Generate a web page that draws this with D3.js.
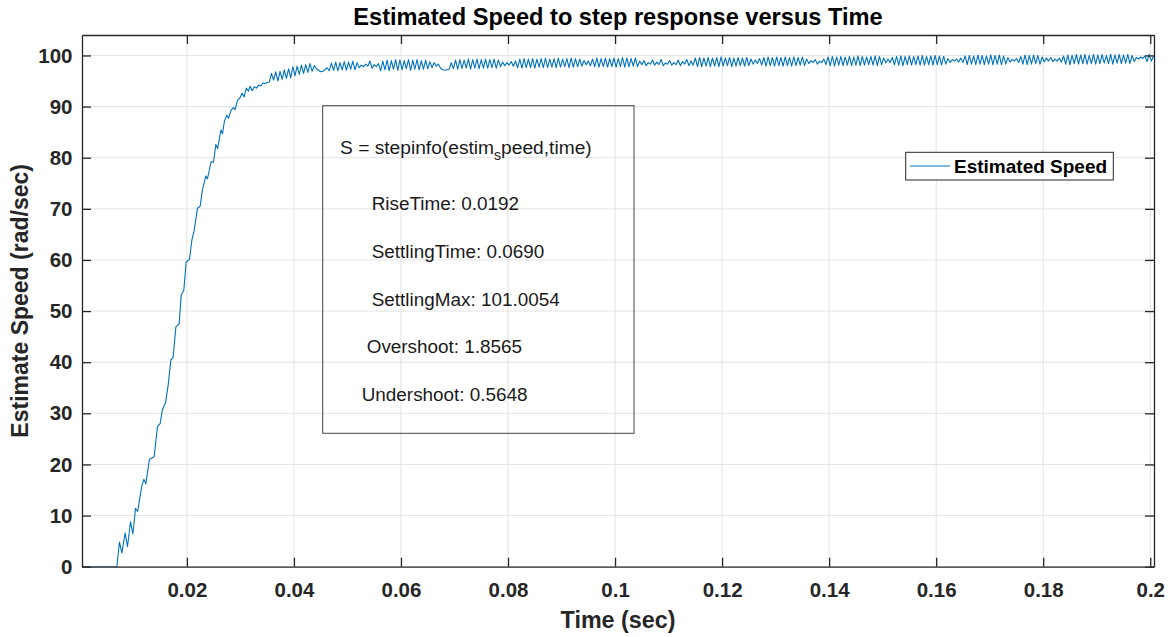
<!DOCTYPE html>
<html>
<head>
<meta charset="utf-8">
<script src="https://cdn.jsdelivr.net/npm/d3@7"></script>
<style>
  body{margin:0;background:#fff}
  svg{display:block;font-family:"Liberation Sans",Arial,Helvetica,sans-serif}
</style>
</head>
<body>
<svg id="chart" width="1174" height="637"></svg>
<script>
// rise phase (time in s, speed in rad/s)
var riseTime = [0.0004,0.0069,0.0074,0.00785,0.00846,0.0089,0.00946,0.0099,0.0104,0.0108,
  0.01158,0.01196,0.01233,0.0130,0.01388,0.0145,0.0150,0.01544,0.0160,0.0165,
  0.0170,0.01743,0.01794,0.01855,0.01893,0.01943,0.01986,0.02048,0.02093,0.02136,
  0.02197,0.02248,0.0229,0.02354,0.02384,0.02453,0.02497,0.02541,0.02575,0.02635,
  0.02665,0.02702,0.02747,0.02777,0.02827,0.0287,0.029,0.02945,0.02985,0.0303,
  0.0307,0.0311,0.0315,0.0318,0.0322,0.0326,0.0330,0.0334,0.0338,0.0342,
  0.0346,0.0350,0.0354];
var riseSpeed = [0,0,4.8,2.7,6.6,3.9,8.8,6.4,11.4,10.8,
  15.8,17.1,16.2,21.0,21.5,27.4,28.0,30.8,32.0,35.5,
  40.4,41.0,46.9,47.5,53.1,54.1,59.6,60.1,63.9,65.8,
  70.1,70.5,73.7,76.4,75.9,79.2,79.1,82.6,81.8,85.4,
  84.7,87.2,88.3,87.7,89.3,89.8,89.4,91.2,91.6,92.6,
  91.9,93.6,93.0,94.0,93.1,93.9,93.6,94.2,94.0,94.6,
  94.5,94.7,94.8];

// steady part: one sample every 0.4 ms starting at 35.8 ms
var steadyStart = 0.0358;
var steadyStep = 0.0004;
var steadySpeed = [
  96.5,95.2,96.8,95.0,96.9,95.3,97.2,95.5,97.4,95.6,97.8,96.0,97.9,96.3,98.1,96.5,98.2,96.7,98.4,96.9,
  98.0,97.4,97.1,96.8,96.9,97.2,97.6,97.0,98.5,97.1,98.7,97.0,98.6,97.2,98.8,97.1,98.7,97.3,98.9,97.2,
  98.6,97.6,98.1,97.8,98.3,97.9,98.9,97.5,98.2,97.8,98.4,97.0,98.9,97.2,99.1,97.0,99.0,97.3,99.2,97.1,
  99.1,97.2,99.0,97.4,99.2,97.1,99.1,97.3,99.2,97.2,99.0,97.3,99.1,97.4,98.8,97.6,98.6,97.9,98.3,97.5,
  97.2,97.1,97.2,97.3,98.6,97.4,99.1,97.3,99.2,97.4,99.1,97.5,99.3,97.3,99.2,97.5,99.3,97.4,99.2,97.5,
  99.3,97.5,99.2,97.6,99.3,97.5,99.1,97.8,98.7,98.0,98.6,98.1,98.8,97.9,98.9,97.6,99.3,97.5,99.4,97.6,
  99.3,97.6,99.4,97.5,99.3,97.7,99.4,97.6,99.5,97.6,99.3,97.7,99.4,97.6,99.5,97.7,99.3,97.8,99.4,97.6,
  99.5,97.7,99.4,97.8,99.3,97.9,99.0,98.2,98.9,98.0,99.3,97.8,99.5,97.7,99.4,97.8,99.5,97.7,99.4,97.8,
  99.5,97.7,99.4,97.8,99.6,97.7,99.5,97.8,99.4,97.9,99.5,97.8,98.9,98.2,99.0,98.0,98.6,98.3,99.1,98.1,
  98.7,98.2,99.2,98.0,98.5,98.3,99.0,98.1,98.6,98.2,99.1,98.0,98.8,98.3,99.2,98.0,98.9,98.1,99.5,97.8,
  99.6,97.8,99.5,97.9,99.6,97.8,99.5,97.9,99.6,97.8,99.7,97.9,99.5,98.0,99.6,97.8,99.5,97.9,99.6,98.0,
  99.5,97.9,99.6,98.0,99.3,98.3,99.1,98.4,99.4,98.1,99.6,97.9,99.7,98.0,99.6,97.9,99.7,98.0,99.6,97.9,
  99.7,98.0,99.6,97.9,99.7,98.0,99.6,98.1,99.7,98.0,99.3,98.4,99.0,98.6,99.2,98.3,98.9,98.6,99.3,98.2,
  99.7,98.0,99.8,97.9,99.7,98.1,99.8,98.0,99.7,98.1,99.8,98.0,99.7,98.1,99.9,98.0,99.8,98.1,99.7,98.2,
  99.8,98.1,99.9,98.0,99.8,98.2,99.5,98.5,99.3,98.6,99.6,98.2,99.8,98.1,99.9,98.0,99.8,98.2,99.9,98.1,
  99.8,98.2,99.9,98.1,100.0,98.1,99.8,98.2,99.9,98.1,100.0,98.2,99.9,98.1,99.8,98.3,99.4,98.6,99.2,98.9,
  99.3,98.7,99.5,98.6,99.9,98.2,100.0,98.3,99.9,98.2,100.1,98.3,100.0,98.2,99.9,98.3,100.1,98.2,100.0,98.3,
  100.1,98.2,99.9,98.3,99.6,98.7,99.2,98.9,99.4,98.6,99.8,98.3,100.1,98.2,100.0,98.3,100.1,98.4,100.0,98.3,
  99.7,98.7,99.5,98.9,99.6,98.8,99.3,98.9,99.5,98.7,99.9,98.3,100.1,98.2,100.0,98.4,100.2,98.3,100.1,98.4,
  100.2,98.3,100.0,98.4,100.2,98.3,100.1,98.4,100.2,98.5,100.0,98.4,100.2,98.3,100.1,98.5,100.2,98.4,100.1,98.5,
  100.2,98.4,100.0,98.8,99.6,99.3,99.7,99.4,99.9,98.8,100.2,98.9,99.8
];

var xRange = [0.0004, 0.2007];
var yRange = [0, 104];
var xTicks = [0.02,0.04,0.06,0.08,0.1,0.12,0.14,0.16,0.18,0.2];
var xTickLabels = ["0.02","0.04","0.06","0.08","0.1","0.12","0.14","0.16","0.18","0.2"];
var yTicks = [0,10,20,30,40,50,60,70,80,90,100];

var titleText = "Estimated Speed to step response versus Time";
var xLabel = "Time (sec)";
var yLabel = "Estimate Speed (rad/sec)";
var legendLabel = "Estimated Speed";
var infoLines = ["RiseTime: 0.0192","SettlingTime: 0.0690","SettlingMax: 101.0054",
  "Overshoot: 1.8565","Undershoot: 0.5648"];

var set = function(sel, obj){
  for(var k in obj) sel.attr(k, obj[k]);
  return sel;
}

var box = {left:82, top:35, right:1154, bottom:566.7};
var axisColor = "#262626";
var lineColor = "#0072bd";

var svg = d3.select("#chart");
var x = d3.scaleLinear().domain(xRange).range([box.left, box.right]);
var y = d3.scaleLinear().domain(yRange).range([box.bottom, box.top]);

// grid
var grid = svg.append("g").attr("stroke", "#e3e3e3").attr("stroke-width", 1);
grid.selectAll("line.vx").data(xTicks).join("line")
  .attr("x1", function(d){return x(d)}).attr("x2", function(d){return x(d)})
  .attr("y1", box.top).attr("y2", box.bottom);
grid.selectAll("line.hy").data(yTicks).join("line")
  .attr("x1", box.left).attr("x2", box.right)
  .attr("y1", function(d){return y(d)}).attr("y2", function(d){return y(d)});

// stepinfo annotation (transparent box, grid shows through)
var info = svg.append("g");
set(info.append("rect"), {x:322.7, y:105.7, width:311.3, height:327.6,
  fill:"none", stroke:"#444", "stroke-width":1});
var first = set(info.append("text"), {x:340, y:154, "font-size":19.2, fill:"#1a1a1a"});
first.append("tspan").text("S = stepinfo(estim");
first.append("tspan").attr("font-size", 14).attr("dy", 6).text("s");
first.append("tspan").attr("dy", -6).text("peed,time)");
var infoX = [371.7, 371.7, 371.7, 366.7, 361.7];
var infoY = [210, 257.7, 305.5, 353.3, 401];
infoLines.forEach(function(s, i){
  set(info.append("text"), {x:infoX[i], y:infoY[i], "font-size":18.9, fill:"#1a1a1a"}).text(s);
});

// curve
var pts = [];
riseTime.forEach(function(t, i){ pts.push([t, riseSpeed[i]]) });
steadySpeed.forEach(function(v, i){ pts.push([steadyStart + i*steadyStep, v]) });

svg.append("clipPath").attr("id", "clip").append("rect")
  .attr("x", box.left).attr("y", box.top)
  .attr("width", box.right - box.left).attr("height", box.bottom - box.top);

var line = d3.line()
  .x(function(d){return x(d[0])})
  .y(function(d){return y(d[1])});
set(svg.append("path").datum(pts), {d:line, fill:"none", stroke:lineColor,
  "stroke-width":1.1, "stroke-linejoin":"round", "clip-path":"url(#clip)"});

// axes, ticks point inward on all four sides
var styleAxis = function(g){
  g.select(".domain").attr("stroke", axisColor).attr("stroke-width", 1.3);
  g.selectAll(".tick line").attr("stroke", axisColor).attr("stroke-width", 1.3);
  g.selectAll(".tick text").attr("fill", axisColor)
    .attr("font-size", 20.5).attr("font-weight", "bold")
    .attr("font-family", "'Liberation Sans',Arial,sans-serif");
}
var gB = svg.append("g").attr("transform", "translate(0," + box.bottom + ")")
  .call(d3.axisBottom(x).tickValues(xTicks)
    .tickFormat(function(d, i){return xTickLabels[i]})
    .tickSize(-9).tickSizeOuter(0).tickPadding(15.5));
var gT = svg.append("g").attr("transform", "translate(0," + box.top + ")")
  .call(d3.axisTop(x).tickValues(xTicks).tickFormat("").tickSize(-9).tickSizeOuter(0));
var gL = svg.append("g").attr("transform", "translate(" + box.left + ",0)")
  .call(d3.axisLeft(y).tickValues(yTicks).tickFormat(String)
    .tickSize(-9).tickSizeOuter(0).tickPadding(9.5));
var gR = svg.append("g").attr("transform", "translate(" + box.right + ",0)")
  .call(d3.axisRight(y).tickValues(yTicks).tickFormat("").tickSize(-9).tickSizeOuter(0));
[gB, gT, gL, gR].forEach(styleAxis);

// legend
var lg = svg.append("g");
set(lg.append("rect"), {x:905.7, y:152.3, width:207.6, height:27.7,
  fill:"#fff", stroke:axisColor, "stroke-width":1});
set(lg.append("line"), {x1:910, x2:950, y1:166, y2:166, stroke:lineColor, "stroke-width":1.1});
set(lg.append("text"), {x:954, y:172.8, "font-size":19, "font-weight":"bold", fill:"#000"})
  .text(legendLabel);

// title and axis labels
set(svg.append("text"), {x:(box.left + box.right)/2, y:25, "text-anchor":"middle",
  "font-size":23.6, "font-weight":"bold", fill:"#000"}).text(titleText);
set(svg.append("text"), {x:(box.left + box.right)/2, y:628, "text-anchor":"middle",
  "font-size":23.3, "font-weight":"bold", fill:axisColor}).text(xLabel);
set(svg.append("text"), {transform:"translate(28," + ((box.top + box.bottom)/2) + ") rotate(-90)",
  "text-anchor":"middle", "font-size":23, "font-weight":"bold", fill:axisColor}).text(yLabel);
</script>
</body>
</html>
